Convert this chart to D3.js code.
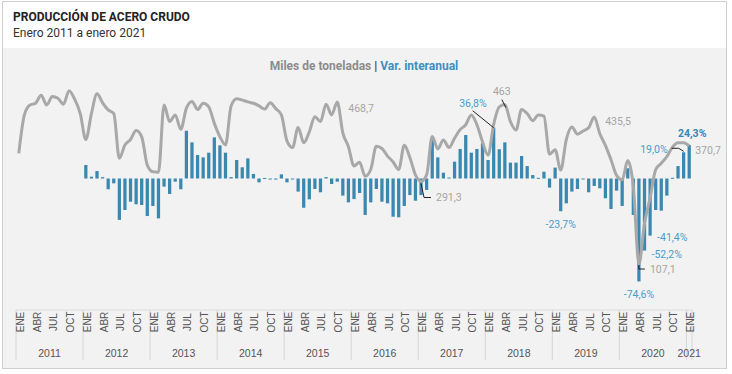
<!DOCTYPE html>
<html>
<head>
<meta charset="utf-8">
<script src="https://cdn.jsdelivr.net/npm/d3@7"></script>
<style>
  body { margin: 0; background: #fff; }
  text { font-family: Roboto, "Liberation Sans", sans-serif; }
  .tick-lbl { font-family: "Liberation Sans Narrow", "Liberation Sans", Arial, sans-serif; }
</style>
</head>
<body>
<div id="chart"></div>
<script>
// Chart size
var width = 732;
var height = 374;

// Data: monthly, Jan 2011 .. Jan 2021
var years = [2011, 2012, 2013, 2014, 2015, 2016, 2017, 2018, 2019, 2020, 2021];
var monthNames = ["ENE", "FEB", "MAR", "ABR", "MAY", "JUN", "JUL", "AGO", "SEP", "OCT", "NOV", "DIC"];

// Miles de toneladas
var produccion = [
  354, 440, 462, 466, 484, 462, 481, 477, 464, 494, 475, 443,
  385, 443, 487, 467, 451, 443, 343, 373, 385, 405, 391, 328,
  313, 312, 462, 425, 440, 408, 455, 470, 452, 466, 458, 421,
  391, 373, 460, 476, 473, 469, 466, 460, 453, 467, 454, 440,
  382, 367, 412, 378, 402, 436, 425, 464, 440, 468.7, 400, 369,
  326, 334, 303, 318, 370, 365, 348, 335, 318, 372, 345, 306,
  291.3, 306, 392, 364, 384, 367, 388, 407, 418, 440, 418, 380,
  350, 419, 458, 463, 425, 406, 452, 443, 427, 440, 437, 352,
  362, 317, 385, 413, 397, 404, 411, 435.5, 398, 372, 340, 305,
  295, 338, 280, 107.1, 198, 255, 318, 332, 347, 368, 378, 378,
  370.7
];

// Var. interanual (%), starts Jan 2012
var varInteranual = [
  null, null, null, null, null, null, null, null, null, null, null, null,
  9.8, 1.3, 5.4, 1.0, -7.8, -3.5, -30.0, -22.8, -16.8, -18.7, -19.2, -27.2,
  -19.9, -28.9, -5.9, -11.2, -2.3, -7.8, 34.6, 26.2, 17.0, 15.3, 18.7, 29.8,
  24.0, 18.7, 1.0, 13.4, 8.1, 14.6, 3.3, -2.8, 0.4, -0.4, -0.8, 3.0,
  -2.8, -0.6, -9.5, -21.2, -15.1, -7.6, -10.0, 1.0, -4.0, -2.3, -12.4, -17.3,
  -14.9, -10.5, -26.4, -17.3, -7.6, -16.8, -18.0, -27.7, -28.1, -19.9, -12.0, -16.1,
  -12.0, -8.3, 29.8, 15.3, 4.2, 0.7, 12.2, 21.4, 31.5, 18.7, 21.4, 25.5,
  13.4, 36.8, 21.2, 26.2, 11.5, 11.5, 16.3, 9.0, 2.5, 0.5, 4.9, -6.6,
  7.9, -23.7, -18.0, -9.5, -7.6, -0.5, -10.0, -5.4, -7.1, -14.3, -22.1, -8.8,
  -19.9, 7.4, -26.4, -74.6, -52.2, -41.4, -22.8, -23.3, -12.4, 0.5, 9.0, 19.0,
  24.3
];

var months = d3.range(produccion.length);

var barColor = "#3a87b0";
var lineColor = "#a8a8a8";
var blueText = "#4a9ccb";
var grayText = "#a5a5a5";

var svg = d3
  .select("#chart")
  .append("svg")
  .attr("width", width)
  .attr("height", height);

// Card frame
svg.append("rect")
  .attr("x", 2.5).attr("y", 1.5)
  .attr("width", 724).attr("height", 367)
  .style("fill", "#fff")
  .style("stroke", "#cfcfcf");

svg.append("rect")
  .attr("x", 3).attr("y", 48)
  .attr("width", 723).attr("height", 320)
  .style("fill", "#f2f2f2");

// Header
svg.append("text")
  .attr("x", 13).attr("y", 21)
  .style("font-size", "12px")
  .style("font-weight", "bold")
  .style("fill", "#222")
  .text("PRODUCCIÓN DE ACERO CRUDO");

svg.append("text")
  .attr("x", 13).attr("y", 37)
  .style("font-size", "12px")
  .style("fill", "#333")
  .text("Enero 2011 a enero 2021");

// Legend title
var legend = svg.append("text")
  .attr("x", 364).attr("y", 70)
  .attr("text-anchor", "middle")
  .style("font-size", "12px")
  .style("font-weight", "bold");
legend.append("tspan").style("fill", "#8c8c8c").text("Miles de toneladas ");
legend.append("tspan").style("fill", "#444").text("| ");
legend.append("tspan").style("fill", "#3d8fc0").text("Var. interanual");

// Scales
var x = d3.scaleBand().domain(months).range([16, 692]).paddingInner(0.42).paddingOuter(0.21);
var xc = function (i) { return x(i) + x.bandwidth() / 2; };
var yLine = d3.scaleLinear().domain([0, 500]).range([312, 88]);
var yBar = d3.scaleLinear().domain([-80, 80]).range([178.5 + 110.4, 178.5 - 110.4]);

// Bars
svg.append("g")
  .selectAll("rect")
  .data(months.filter(function (i) { return varInteranual[i] !== null; }))
  .enter()
  .append("rect")
  .attr("x", function (i) { return x(i); })
  .attr("width", x.bandwidth())
  .attr("y", function (i) { return Math.min(yBar(varInteranual[i]), yBar(0)); })
  .attr("height", function (i) { return Math.max(1, Math.abs(yBar(varInteranual[i]) - yBar(0))); })
  .style("fill", barColor);

// Line
var line = d3.line()
  .x(function (i) { return xc(i); })
  .y(function (i) { return yLine(produccion[i]); })
  .curve(d3.curveMonotoneX);

svg.append("path")
  .datum(months)
  .attr("d", line)
  .style("fill", "none")
  .style("stroke", lineColor)
  .style("stroke-width", 3)
  .style("stroke-linejoin", "round");

// Axis area
var axisTop = 310;
var full = d3.scaleBand().domain(months).range([16, 692]);
svg.append("line")
  .attr("x1", 16).attr("x2", 692)
  .attr("y1", axisTop).attr("y2", axisTop)
  .style("stroke", "#dcdcdc");

var seps = years.map(function (y, k) { return full(k * 12); }).concat([692]);
svg.append("g")
  .selectAll("line")
  .data(seps)
  .enter()
  .append("line")
  .attr("x1", function (d) { return d; })
  .attr("x2", function (d) { return d; })
  .attr("y1", axisTop)
  .attr("y2", 360)
  .style("stroke", "#d6d6d6");

svg.append("g")
  .selectAll("text")
  .data(months.filter(function (i) { return i % 3 === 0; }))
  .enter()
  .append("text")
  .attr("class", "tick-lbl")
  .attr("transform", function (i) {
    return "translate(" + (xc(i) + 5) + ",322) rotate(-90)";
  })
  .attr("text-anchor", "middle")
  .style("font-size", "10px")
  .style("fill", "#555")
  .text(function (i) { return monthNames[i % 12]; });

svg.append("g")
  .selectAll("text")
  .data(years)
  .enter()
  .append("text")
  .attr("class", "tick-lbl")
  .attr("x", function (y, k) {
    var first = k * 12;
    var last = Math.min(first + 11, months.length - 1);
    return (full(first) + full(last) + full.bandwidth()) / 2;
  })
  .attr("y", 357)
  .attr("text-anchor", "middle")
  .style("font-size", "10.5px")
  .style("fill", "#555")
  .text(function (d) { return d; });

// Annotations
function fmt(v, pct) {
  var s = v.toLocaleString("es-AR", { minimumFractionDigits: pct ? 1 : 0, maximumFractionDigits: 1 });
  return pct ? s + "%" : s;
}

function label(xp, yp, txt, color, anchor, bold) {
  svg.append("text")
    .attr("x", xp).attr("y", yp)
    .attr("text-anchor", anchor || "start")
    .style("font-size", "10.5px")
    .style("font-weight", bold ? "bold" : "normal")
    .style("fill", color)
    .text(txt);
}

function leader(pts) {
  svg.append("path")
    .attr("d", d3.line()(pts))
    .style("fill", "none")
    .style("stroke", "#222")
    .style("stroke-width", 1);
}

// Line values
var p;
p = [xc(57), yLine(produccion[57])];
label(p[0] + 11, p[1] + 10, fmt(produccion[57]), grayText);

p = [xc(87), yLine(produccion[87])];
label(p[0] - 3, p[1] - 10, fmt(produccion[87]), grayText, "middle");
leader([[p[0] - 3, p[1] - 5], [p[0] + 1, p[1] + 3]]);

p = [xc(72), yLine(produccion[72])];
leader([[p[0], p[1] + 2], [p[0] + 3, p[1] + 16], [p[0] + 10, p[1] + 16]]);
label(p[0] + 15, p[1] + 20, fmt(produccion[72]), grayText);

p = [xc(103), yLine(produccion[103])];
label(p[0] + 11, p[1] + 8, fmt(produccion[103]), grayText);

p = [xc(111), yLine(produccion[111])];
leader([[p[0], p[1] + 1], [p[0], p[1] + 5], [p[0] + 6, p[1] + 5]]);
label(p[0] + 11, p[1] + 9, fmt(produccion[111]), grayText);

p = [xc(120), yLine(produccion[120])];
label(p[0] + 6, p[1] + 8, fmt(produccion[120]), grayText);

// Bar values
p = [xc(85), yBar(varInteranual[85])];
leader([[p[0] - 21, p[1] - 17], [p[0], p[1]]]);
label(p[0] - 7, p[1] - 21, fmt(varInteranual[85], true), blueText, "end");

p = [xc(97), yBar(varInteranual[97])];
label(p[0], p[1] + 17, fmt(varInteranual[97], true), blueText, "middle");

p = [xc(111), yBar(varInteranual[111])];
label(p[0], p[1] + 17, fmt(varInteranual[111], true), blueText, "middle");

p = [xc(112), yBar(varInteranual[112])];
label(p[0] + 7, p[1] + 7, fmt(varInteranual[112], true), blueText);

p = [xc(113), yBar(varInteranual[113])];
label(p[0] + 7, p[1] + 5, fmt(varInteranual[113], true), blueText);

p = [xc(119), yBar(varInteranual[119])];
leader([[p[0] - 12, p[1] - 4], [p[0] - 5, p[1] - 4], [p[0], p[1] - 1]]);
label(p[0] - 16, p[1] + 1, fmt(varInteranual[119], true), blueText, "end");

p = [xc(120), yBar(varInteranual[120])];
label(p[0] + 3, p[1] - 8, fmt(varInteranual[120], true), "#3a85b5", "middle", true);
</script>
</body>
</html>
